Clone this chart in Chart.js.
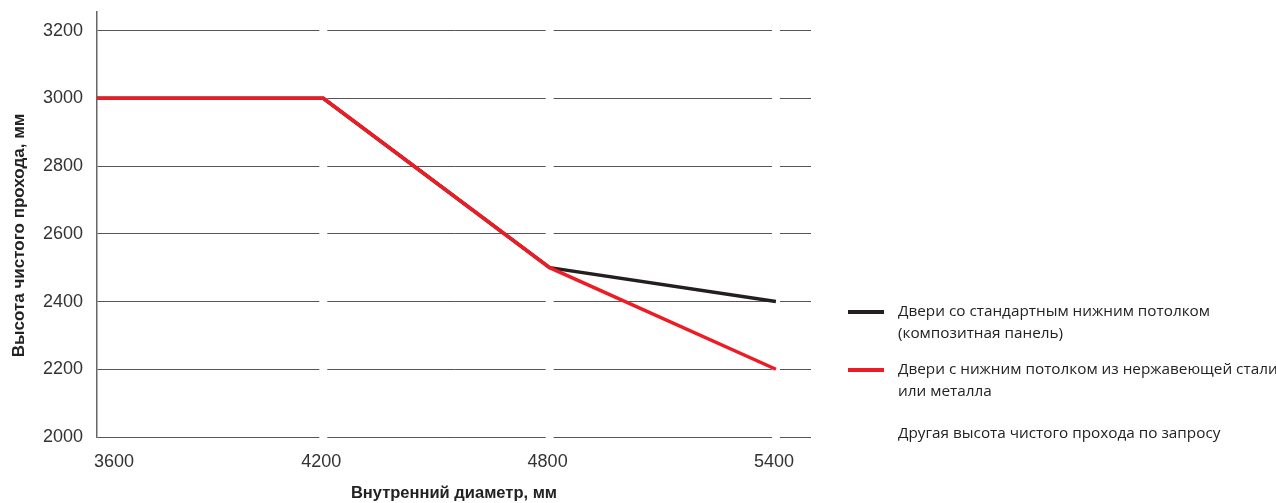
<!DOCTYPE html>
<html>
<head>
<meta charset="utf-8">
<title>Высота чистого прохода</title>
<script src="https://cdn.jsdelivr.net/npm/chart.js@4"></script>
<style>
    html, body { margin: 0; padding: 0; background: #fff; overflow: hidden; }
    #wrap { position: relative; width: 1276px; height: 503px; overflow: hidden; }
    #legend {
        position: absolute; left: 848px; top: 299px; width: 480px;
        font-family: "Open Sans", "Noto Sans", sans-serif; font-size: 15.3px; line-height: 22px; color: #222;
    }
    .item { display: flex; align-items: flex-start; margin-bottom: 14px; }
    .swatch { width: 36px; height: 4px; margin-top: 11px; margin-right: 14px; flex: none; }
    .label { white-space: pre; }
    .note { margin-top: 20px; padding-left: 50px; white-space: pre; }
</style>
</head>
<body>
<div id="wrap">
    <canvas id="chart" width="1276" height="503"></canvas>
    <div id="legend"></div>
</div>
<script>
// Data
const diameters = [3600, 4200, 4800, 5400];
const heightTicks = [2000, 2200, 2400, 2600, 2800, 3000, 3200];
const standardCeiling = [3000, 3000, 2500, 2400];
const steelCeiling = [3000, 3000, 2500, 2200];

const seriesNames = [
    'Двери со стандартным нижним потолком\n(композитная панель)',
    'Двери с нижним потолком из нержавеющей стали\nили металла'
];
const seriesColors = ['#231f20', '#ed1c24'];
const footnote = 'Другая высота чистого прохода по запросу';

const xTitle = 'Внутренний диаметр, мм';
const yTitle = 'Высота чистого прохода, мм';

const FONT = '"Liberation Sans", Arial, sans-serif';

const toPoints = (vals) => vals.map((v, i) => ({ x: diameters[i], y: v }));

// white breaks in the grid lines at each diameter (except the axis one)
const gridGaps = {
    id: 'gridGaps',
    beforeDatasetsDraw(chart) {
        const { ctx, chartArea, scales } = chart;
        ctx.save();
        ctx.fillStyle = '#fff';
        diameters.slice(1).forEach(d => {
            const x = scales.x.getPixelForValue(d);
            ctx.fillRect(x - 4, chartArea.top, 8, chartArea.bottom - chartArea.top + 2);
        });
        ctx.restore();
    }
};

// x tick labels (first one sits right of the axis) and the y title
const axisText = {
    id: 'axisText',
    afterDraw(chart) {
        const { ctx, chartArea, scales } = chart;
        ctx.save();
        ctx.font = '18px ' + FONT;
        ctx.fillStyle = '#333';
        ctx.textBaseline = 'middle';
        diameters.forEach((d, i) => {
            const x = scales.x.getPixelForValue(d);
            ctx.textAlign = i === 0 ? 'left' : 'center';
            ctx.fillText(String(d), i === 0 ? x - 3 : x - 2, chartArea.bottom + 25);
        });

        ctx.font = 'bold 17px ' + FONT;
        ctx.fillStyle = '#222';
        ctx.textAlign = 'center';
        ctx.translate(19, (chartArea.top + chartArea.bottom) / 2 + 11);
        ctx.rotate(-Math.PI / 2);
        ctx.fillText(yTitle, 0, 0);
        ctx.restore();
    }
};

new Chart(document.getElementById('chart'), {
    type: 'line',
    data: {
        datasets: [
            {
                label: seriesNames[1],
                data: toPoints(steelCeiling),
                borderColor: seriesColors[1],
                borderWidth: 3.5,
                pointRadius: 0,
                tension: 0,
                order: 0
            },
            {
                label: seriesNames[0],
                data: toPoints(standardCeiling),
                borderColor: seriesColors[0],
                borderWidth: 3.5,
                pointRadius: 0,
                tension: 0,
                order: 1
            }
        ]
    },
    options: {
        responsive: false,
        animation: false,
        layout: { padding: { top: 12, right: 465, bottom: 0, left: 0 } },
        plugins: { legend: { display: false }, tooltip: { enabled: false } },
        scales: {
            x: {
                type: 'linear',
                min: 3600,
                max: 5493,
                afterBuildTicks: s => { s.ticks = diameters.map(v => ({ value: v })); },
                afterFit: s => { s.height = 66; s.paddingLeft = 0; s.paddingRight = 0; },
                grid: { display: false },
                border: { display: false },
                ticks: { display: false },
                title: {
                    display: true,
                    text: xTitle,
                    color: '#222',
                    font: { family: FONT, size: 16.5, weight: 'bold' },
                    padding: { top: 0, bottom: 0 }
                }
            },
            y: {
                type: 'linear',
                min: 2000,
                max: 3255,
                afterBuildTicks: s => { s.ticks = heightTicks.map(v => ({ value: v })); },
                afterFit: s => { s.width = 97; s.paddingTop = 0; s.paddingBottom = 0; },
                grid: { color: '#555', lineWidth: 1, drawTicks: false },
                border: { display: true, color: '#666', width: 1.5 },
                ticks: {
                    color: '#333',
                    padding: 14,
                    font: { family: FONT, size: 18 },
                    callback: v => String(v)
                }
            }
        }
    },
    plugins: [gridGaps, axisText]
});

// legend as real text
const legend = document.getElementById('legend');
seriesNames.forEach((name, i) => {
    const item = document.createElement('div');
    item.className = 'item';
    const sw = document.createElement('span');
    sw.className = 'swatch';
    sw.style.background = seriesColors[i];
    const lb = document.createElement('span');
    lb.className = 'label';
    lb.textContent = name;
    item.appendChild(sw);
    item.appendChild(lb);
    legend.appendChild(item);
});
const note = document.createElement('div');
note.className = 'note';
note.textContent = footnote;
legend.appendChild(note);
</script>
</body>
</html>
